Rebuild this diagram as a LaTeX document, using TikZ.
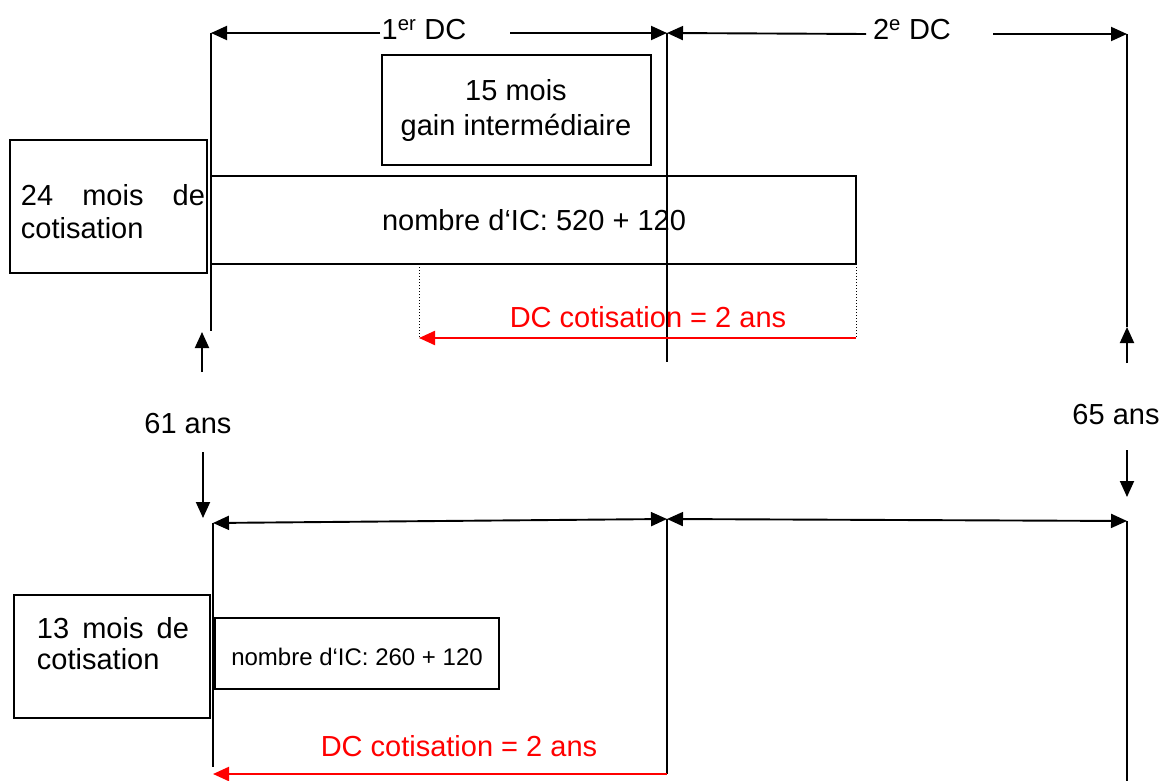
\documentclass[tikz,border=0pt]{standalone}
\usepackage{fontspec}
\setmainfont{Liberation Sans}
\usetikzlibrary{arrows.meta}
\definecolor{dcred}{RGB}{255,0,0}
\begin{document}
\begin{tikzpicture}[x=1pt,y=-1pt,line width=1.9pt,
  tipend/.style={-{Triangle[length=16pt,width=14pt]}},
  tipboth/.style={{Triangle[length=16pt,width=14pt]}-{Triangle[length=16pt,width=14pt]}},
  boxnode/.style={draw,line width=1.9pt,anchor=north west,inner sep=0pt,outer sep=0pt},
  bigtxt/.style={inner sep=0pt,anchor=base,font=\fontsize{29}{34}\selectfont},
  smalltxt/.style={inner sep=0pt,anchor=base,font=\fontsize{24}{28}\selectfont},
  redtxt/.style={bigtxt,text=dcred},
  redarrow/.style={draw=dcred,line width=2.2pt,-{Triangle[length=16pt,width=14pt]}},
  dotline/.style={line width=1pt,dotted}]
\useasboundingbox (0,0) rectangle (1160,781);

% ---------- top timeline ----------
\coordinate (tL) at (211,33);
\coordinate (tM) at (667,33);
\coordinate (tR) at (1127,34);
\coordinate (g1a) at (380,33);
\coordinate (g1b) at (510,33);
\coordinate (g2a) at (866,34);
\coordinate (g2b) at (993,34);
\node[bigtxt] (dc1) at (424,40) {1\textsuperscript{er} DC};
\node[bigtxt] (dc2) at (912,40) {2\textsuperscript{e} DC};
\draw[tipend] (g1a) -- (tL);
\draw[tipend] (g1b) -- (tM);
\draw[tipend] (g2a) -- (tM);
\draw[tipend] (g2b) -- (tR);

\coordinate (tLb) at (211,331);
\coordinate (tMb) at (667,362);
\coordinate (tRb) at (1127,327);
\draw (tL) -- (tLb);
\draw (tM) -- (tMb);
\draw (tR) -- (tRb);

% boxes top
\node[boxnode,minimum width=269pt,minimum height=110pt] (b15) at (382,55) {};
\node[bigtxt] (t15a) at (516,101) {15 mois};
\node[bigtxt] (t15b) at (516,136) {gain intermédiaire};

\node[boxnode,minimum width=197pt,minimum height=133pt] (b24) at (10,140) {};
\node[bigtxt,anchor=base west] (t24a) at (20,206) {\hbox to 184pt{24\hfill mois\hfill de}};
\node[bigtxt,anchor=base west] (t24b) at (20,238) {cotisation};

\node[boxnode,minimum width=645pt,minimum height=88pt] (bIC1) at (211,176) {};
\node[bigtxt] (tIC1) at (534,230) {nombre d‘IC: 520 + 120};

% red duration top
\coordinate (d1a) at (419,264);
\coordinate (d1b) at (856,264);
\coordinate (d1c) at (419,338);
\coordinate (d1d) at (856,338);
\draw[dotline] (d1a) -- (d1c);
\draw[dotline] (d1b) -- (d1d);
\draw[redarrow] (d1d) -- (d1c);
\node[redtxt] (r1) at (648,327) {DC cotisation = 2 ans};

% ages
\coordinate (a61a) at (202,372);
\coordinate (a61b) at (202,332);
\coordinate (a61c) at (203,452);
\coordinate (a61d) at (203,518);
\draw[tipend] (a61a) -- (a61b);
\draw[tipend] (a61c) -- (a61d);
\node[bigtxt] (age61) at (188,433) {61 ans};

\coordinate (a65a) at (1127,363);
\coordinate (a65c) at (1127,450);
\coordinate (a65d) at (1127,497);
\draw[tipend] (a65a) -- (tRb);
\draw[tipend] (a65c) -- (a65d);
\node[bigtxt] (age65) at (1116,424) {65 ans};

% ---------- bottom timeline ----------
\coordinate (bL) at (213,523);
\coordinate (bM) at (667,519);
\coordinate (bR) at (1127,521);
\draw[tipboth] (bL) -- (bM);
\draw[tipboth] (bM) -- (bR);
\coordinate (bLb) at (213,767);
\coordinate (bMb) at (667,774);
\coordinate (bRb) at (1127,781);
\draw (bL) -- (bLb);
\draw (bM) -- (bMb);
\draw (bR) -- (bRb);

\node[boxnode,minimum width=196pt,minimum height=123pt] (b13) at (14,595) {};
\node[bigtxt,anchor=base west] (t13a) at (36,638) {\hbox to 152pt{13\hfill mois\hfill de}};
\node[bigtxt,anchor=base west] (t13b) at (36,669) {cotisation};

\node[boxnode,line width=1.4pt,minimum width=284pt,minimum height=71pt] (bIC2) at (215,618) {};
\node[smalltxt] (tIC2) at (357,665) {nombre d‘IC: 260 + 120};

\coordinate (d2a) at (667,774);
\coordinate (d2b) at (213,774);
\draw[redarrow] (d2a) -- (d2b);
\node[redtxt] (r2) at (459,756) {DC cotisation = 2 ans};
\end{tikzpicture}
\end{document}
